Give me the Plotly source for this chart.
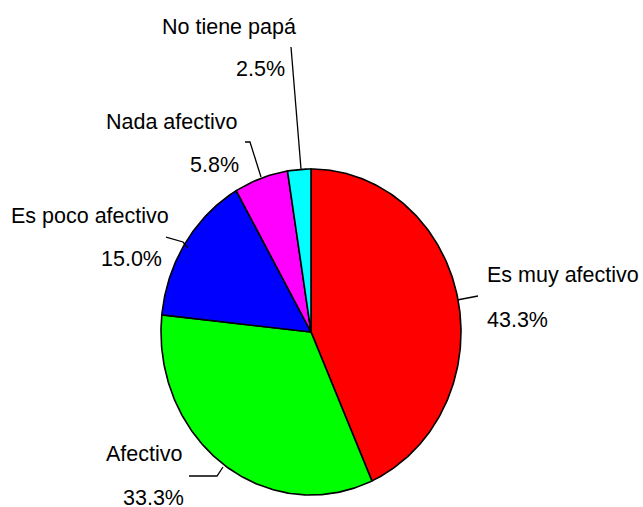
import numpy as np
import plotly.graph_objects as go

# data
categorias = ["Es muy afectivo", "Afectivo", "Es poco afectivo", "Nada afectivo", "No tiene papá"]
porcentajes = [43.3, 33.3, 15.0, 5.8, 2.5]
colores = ["#FF0000", "#00FF00", "#0000FF", "#FF00FF", "#00FFFF"]

W, H = 643, 507
# pie geometry (pixels): slightly elliptical pie
cx, cy, rx, ry = 311, 332, 150, 163


def px_x(x):
    return x / W


def px_y(y):
    return 1 - y / H


fig = go.Figure()

total = sum(porcentajes)
start = 0.0
for cat, val, col in zip(categorias, porcentajes, colores):
    a0 = start / total * 2 * np.pi
    a1 = (start + val) / total * 2 * np.pi
    t = np.linspace(a0, a1, max(int(val * 4), 8))
    xs = np.concatenate([[0], np.sin(t), [0]])
    ys = np.concatenate([[0], np.cos(t), [0]])
    fig.add_trace(go.Scatter(
        x=xs, y=ys, mode="lines", fill="toself", fillcolor=col,
        line=dict(color="black", width=1.6), name=cat,
        hoverinfo="name", showlegend=False,
    ))
    start += val

# label positions (pixels): text left edge, label y, percent left edge, percent y
pos_etiquetas = [
    (485, 275, 485, 320),
    (104, 454, 121, 498),
    (9, 216, 99, 259),
    (104, 122, 188, 165),
    (160, 27, 234, 69),
]
lineas_guia = [
    [(457, 300), (478, 296)],
    [(223, 467), (217, 476), (189, 476)],
    [(188, 248), (183, 242), (166, 237)],
    [(261, 177), (250, 142), (245, 142)],
    [(301, 169), (291, 47)],
]

fuente = dict(family="Liberation Sans, Arial, sans-serif", size=21.5, color="black")
anots = []
for cat, val, (lx, ly, px, py) in zip(categorias, porcentajes, pos_etiquetas):
    anots.append(dict(text=cat, x=px_x(lx), y=px_y(ly), xref="paper", yref="paper",
                      xanchor="left", yanchor="middle", showarrow=False, font=fuente))
    anots.append(dict(text=f"{val:.1f}%", x=px_x(px), y=px_y(py), xref="paper", yref="paper",
                      xanchor="left", yanchor="middle", showarrow=False, font=fuente))

shapes = []
for pts in lineas_guia:
    path = "M " + " L ".join(f"{px_x(x):.5f},{px_y(y):.5f}" for x, y in pts)
    shapes.append(dict(type="path", path=path, xref="paper", yref="paper",
                       line=dict(color="black", width=1.3)))

fig.update_layout(
    width=W, height=H,
    margin=dict(l=0, r=0, t=0, b=0),
    paper_bgcolor="white", plot_bgcolor="white",
    xaxis=dict(range=[-cx / rx, (W - cx) / rx], visible=False, fixedrange=True),
    yaxis=dict(range=[-(H - cy) / ry, cy / ry], visible=False, fixedrange=True),
    annotations=anots,
    shapes=shapes,
)

fig.write_html("out.html", config={"displayModeBar": False},
               post_script="document.body.style.margin='0';")
